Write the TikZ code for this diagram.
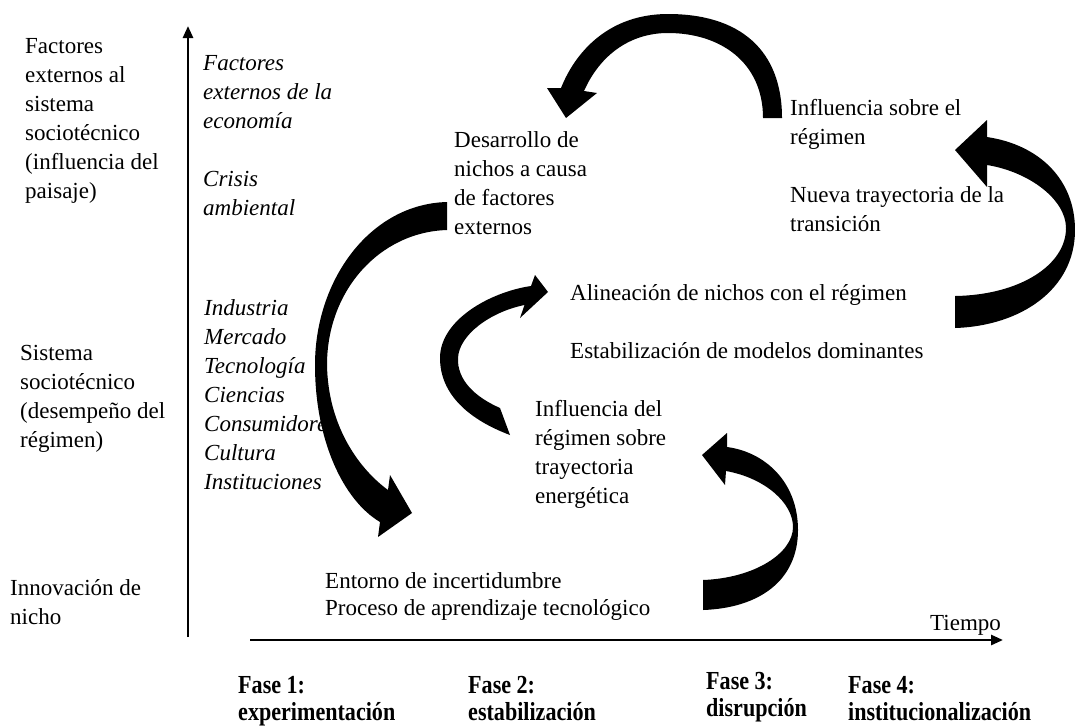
\documentclass[tikz,border=0pt]{standalone}
\usepackage{fontspec}
\setmainfont{Liberation Serif}
\newfontfamily\phasefont[FakeStretch=0.85]{Liberation Serif}
\usetikzlibrary{arrows.meta}

% Multi-line nodes are placed by the baseline of their last line.
\tikzset{
  txt/.style={anchor=base west, inner sep=0pt, align=left,
              font=\fontsize{23}{29}\selectfont},
  itxt/.style={txt, font=\fontsize{23}{29}\selectfont\itshape},
  phase/.style={anchor=base west, inner sep=0pt, align=left,
                font=\phasefont\bfseries\fontsize{26}{27}\selectfont},
  axis/.style={line width=2.6pt, -{Triangle[length=12pt,width=10pt]}},
  blockarrow/.style={fill=black}
}

\begin{document}
\begin{tikzpicture}[x=1pt,y=-1pt]
\useasboundingbox (0,0) rectangle (1075,726);

% level labels on the left
\node[txt] (landscape) at (25,198)
  {Factores\\externos al\\sistema\\sociotécnico\\(influencia del\\paisaje)};
\node[txt] (regime) at (20,447)
  {Sistema\\sociotécnico\\(desempeño del\\régimen)};
\node[txt] (niche) at (10,624) {Innovación de\\nicho};

% italic factor lists
\node[itxt] (extfactors) at (203,215)
  {Factores\\externos de la\\economía\\[29pt]Crisis\\ambiental};
\node[itxt] (sectors) at (204,489)
  {Industria\\Mercado\\Tecnología\\Ciencias\\Consumidores\\Cultura\\Instituciones};

% stage descriptions
\node[txt] (devniche) at (454,234)
  {Desarrollo de\\nichos a causa\\de factores\\externos};
\node[txt] (influence) at (790,231)
  {Influencia sobre el\\régimen\\[29pt]Nueva trayectoria de la\\transición};
\node[txt] (alignment) at (570,358)
  {Alineación de nichos con el régimen\\[29pt]Estabilización de modelos dominantes};
\node[txt] (trajectory) at (535,503)
  {Influencia del\\régimen sobre\\trayectoria\\energética};
\node[txt] (uncertainty) at (325,615)
  {Entorno de incertidumbre\\[-2pt]Proceso de aprendizaje tecnológico};
\node[txt] (time) at (930,630) {Tiempo};

% phases
\node[phase] (ph1) at (238,720) {Fase 1:\\experimentación};
\node[phase] (ph2) at (468,720) {Fase 2:\\estabilización};
\node[phase] (ph3) at (706,716) {Fase 3:\\disrupción};
\node[phase] (ph4) at (848,720) {Fase 4:\\institucionalización};

% axes
\coordinate (vbot) at (188,637);
\coordinate (vtop) at (188,26);
\coordinate (hleft) at (250,640);
\coordinate (hright) at (1003,640);
\draw[axis] (vbot) -- (vtop);
\draw[axis] (hleft) -- (hright);

% curved block arrows
% top: from the regime back to niche development
\fill[blockarrow] (782,118) .. controls (782,50) and (740,14) .. (668,14)
  .. controls (612,14) and (577,48) .. (561,88) -- (547,88) -- (566,118)
  -- (597,93) -- (584,91) .. controls (600,55) and (630,33) .. (668,33)
  .. controls (720,33) and (763,62) .. (763,118) -- cycle;

% long left arrow: external factors down to the niche level
\fill[blockarrow] (447,202) .. controls (370,204) and (315,280) .. (315,365)
  .. controls (315,440) and (343,500) .. (380,522) -- (378,537) -- (412,513)
  -- (390,475) -- (388,490) .. controls (358,468) and (328,425) .. (327,365)
  .. controls (327,290) and (380,232) .. (447,230) -- cycle;

% middle arrow: regime influence up to alignment
\fill[blockarrow] (510,435) .. controls (470,420) and (440,395) .. (440,358)
  .. controls (440,320) and (490,292) .. (531,286) -- (535,275) -- (548,292)
  -- (520,318) -- (524.5,305) .. controls (490,312) and (459,335) .. (458,358)
  .. controls (457,380) and (475,397) .. (500,408) -- cycle;

% lower right arrow: niche level up to regime influence
\fill[blockarrow] (703,610) .. controls (760,608) and (798,580) .. (798,530)
  .. controls (798,482) and (765,452) .. (727,447) -- (727,433) -- (702,455)
  -- (725,485) -- (726,471) .. controls (765,478) and (793,503) .. (793,527)
  .. controls (793,553) and (755,578) .. (703,580) -- cycle;

% right arrow: alignment up to the new trajectory
\fill[blockarrow] (955,328) .. controls (1020,326) and (1075,290) .. (1075,230)
  .. controls (1075,180) and (1040,145) .. (987,137) -- (987,120) -- (955,150)
  -- (987,187) -- (987,165) .. controls (1030,172) and (1066,200) .. (1066,228)
  .. controls (1066,265) and (1020,295) .. (955,296) -- cycle;
\end{tikzpicture}
\end{document}
